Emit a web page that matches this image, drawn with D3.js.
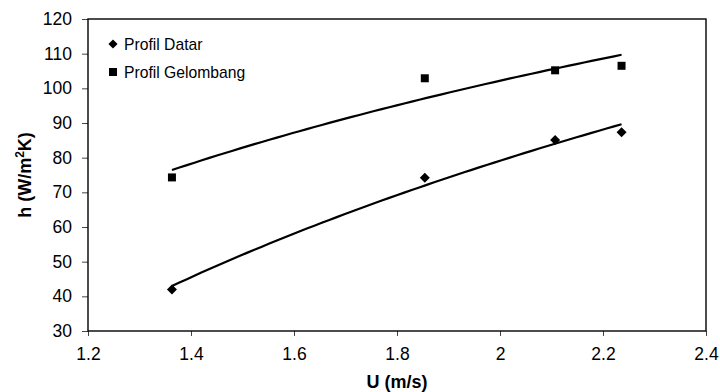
<!DOCTYPE html>
<html>
<head>
<meta charset="utf-8">
<script src="https://cdn.jsdelivr.net/npm/d3@7"></script>
<style>
  html, body { margin: 0; padding: 0; background: #fff; }
  svg { display: block; font-family: "Liberation Sans", Arial, sans-serif; }
</style>
</head>
<body>
<svg id="chart" width="720" height="392"></svg>
<script>
// ---- data ----
const velocity = [1.363, 1.854, 2.107, 2.236];          // U (m/s)
const hDatar = [42.0, 74.2, 85.1, 87.3];                 // Profil Datar
const hGelombang = [74.3, 102.9, 105.2, 106.5];          // Profil Gelombang
const seriesNames = ["Profil Datar", "Profil Gelombang"];
const xTickValues = [1.2, 1.4, 1.6, 1.8, 2.0, 2.2, 2.4];
const xTickLabels = ["1.2", "1.4", "1.6", "1.8", "2", "2.2", "2.4"];
const yTickValues = [30, 40, 50, 60, 70, 80, 90, 100, 110, 120];
const yTickLabels = ["30", "40", "50", "60", "70", "80", "90", "100", "110", "120"];
const xTitle = "U (m/s)";

// ---- layout ----
const W = 720, H = 392;
const margin = { left: 88, right: 14, top: 19, bottom: 61 };
const svg = d3.select("#chart");
const x = d3.scaleLinear().domain([1.2, 2.4]).range([margin.left, W - margin.right]);
const y = d3.scaleLinear().domain([30, 120]).range([H - margin.bottom, margin.top]);

// logarithmic trendline (least squares on ln x), as the spreadsheet trendline does
function logFit(xs, ys) {
  const lx = xs.map(Math.log);
  const mx = d3.mean(lx), my = d3.mean(ys);
  let sxy = 0, sxx = 0;
  lx.forEach((v, i) => { sxy += (v - mx) * (ys[i] - my); sxx += (v - mx) * (v - mx); });
  const b = sxy / sxx, a = my - b * mx;
  return u => a + b * Math.log(u);
}

// axes
const xAxis = d3.axisBottom(x).tickValues(xTickValues)
  .tickFormat((d, i) => xTickLabels[i]).tickSizeInner(5).tickSizeOuter(0).tickPadding(12);
const yAxis = d3.axisLeft(y).tickValues(yTickValues)
  .tickFormat((d, i) => yTickLabels[i]).tickSizeInner(6).tickSizeOuter(0).tickPadding(10);

const gx = svg.append("g").attr("transform", `translate(0,${H - margin.bottom})`).call(xAxis);
const gy = svg.append("g").attr("transform", `translate(${margin.left},0)`).call(yAxis);
[gx, gy].forEach(g => {
  g.select(".domain").remove();
  g.selectAll(".tick line").attr("stroke", "#444").attr("stroke-width", 1);
  g.selectAll(".tick text").attr("fill", "#000").style("font-size", "17.5px")
    .style("font-family", "'Liberation Sans', Arial, sans-serif");
});

// plot frame
svg.append("rect")
  .attr("x", margin.left).attr("y", margin.top)
  .attr("width", W - margin.left - margin.right)
  .attr("height", H - margin.top - margin.bottom)
  .attr("fill", "none").attr("stroke", "#000").attr("stroke-width", 1.4);

// series styles: diamond = square rotated 45°
const series = [
  { name: seriesNames[0], values: hDatar, rot: 45, size: 50, legSize: 42 },
  { name: seriesNames[1], values: hGelombang, rot: 0, size: 64, legSize: 64 }
];

// trendlines
const uMin = d3.min(velocity), uMax = d3.max(velocity);
const uSamples = d3.range(0, 61).map(i => uMin + (uMax - uMin) * i / 60);
const line = d3.line().x(d => x(d[0])).y(d => y(d[1]));
series.forEach(s => {
  const f = logFit(velocity, s.values);
  svg.append("path")
    .attr("d", line(uSamples.map(u => [u, f(u)])))
    .attr("fill", "none").attr("stroke", "#000").attr("stroke-width", 2.2)
    .attr("stroke-linejoin", "round");
});

// markers
series.forEach(s => {
  svg.append("g").selectAll("path").data(velocity).join("path")
    .attr("transform", (d, i) => `translate(${x(d)},${y(s.values[i])}) rotate(${s.rot})`)
    .attr("d", d3.symbol().type(d3.symbolSquare).size(s.size))
    .attr("fill", "#000");
});

// legend
const legend = svg.append("g");
series.forEach((s, i) => {
  const cy = 44 + i * 28;
  legend.append("path")
    .attr("transform", `translate(113,${cy}) rotate(${s.rot})`)
    .attr("d", d3.symbol().type(d3.symbolSquare).size(s.legSize))
    .attr("fill", "#000");
  legend.append("text").attr("x", 124).attr("y", cy).attr("dy", "0.36em")
    .style("font-size", "15.7px").text(s.name);
});

// axis titles
svg.append("text")
  .attr("x", (margin.left + W - margin.right) / 2).attr("y", 388)
  .attr("text-anchor", "middle").style("font-size", "18px").style("font-weight", "bold")
  .text(xTitle);

const yt = svg.append("text")
  .attr("transform", `translate(31,${(margin.top + H - margin.bottom) / 2}) rotate(-90)`)
  .attr("text-anchor", "middle").style("font-size", "18px").style("font-weight", "bold");
yt.append("tspan").text("h (W/m");
yt.append("tspan").attr("baseline-shift", "super").style("font-size", "12px").text("2");
yt.append("tspan").text("K)");
</script>
</body>
</html>
